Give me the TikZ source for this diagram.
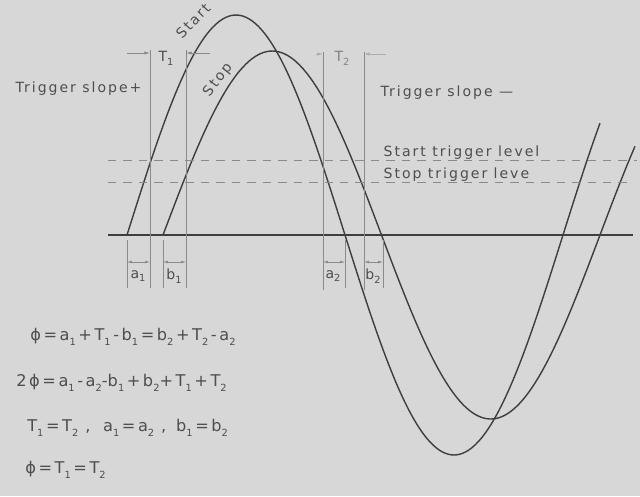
\documentclass[tikz,border=0pt]{standalone}
\usepackage{fontspec}
\setmainfont{DejaVu Sans}
\usetikzlibrary{arrows.meta}
\definecolor{PaperGray}{HTML}{D7D7D7}
\definecolor{CurveInk}{HTML}{3E3E3E}
\definecolor{DimInk}{HTML}{8A8A8A}
\definecolor{TextInk}{HTML}{4E4E4E}
\newcommand{\lo}[1]{\raisebox{-0.5ex}{\scriptsize #1}}
\newcommand{\eqfont}{\fontsize{11.5}{13}\selectfont\spaceskip=0.16em\relax}
\newcommand{\lblfont}{\fontsize{10}{12}\selectfont\addfontfeatures{LetterSpace=14}}

\begin{document}
\begin{tikzpicture}[x=0.025cm,y=-0.025cm,
    curve/.style={CurveInk,line width=1pt},
    dim/.style={DimInk,line width=0.4pt},
    dimtip/.style={dim,-{Latex[length=4pt,width=2.2pt]}},
    dimboth/.style={dim,{Latex[length=3.5pt,width=2pt]}-{Latex[length=3.5pt,width=2pt]}},
    lvl/.style={DimInk,line width=0.5pt,dash pattern=on 6pt off 5pt},
    lbl/.style={TextInk,font=\lblfont,inner sep=1pt},
    eqn/.style={TextInk,font=\eqfont,anchor=west,inner sep=0pt}]
  \fill[PaperGray] (0,0) rectangle (640,496);

  % --- axis and the two waves ---
  \draw[curve] (108,235) -- (633,235);
  \draw[curve] plot[domain=127:600,samples=160,smooth]
    (\x,{235-220*sin((\x-127)/436*360)});
  \draw[curve] plot[domain=163:635,samples=160,smooth]
    (\x,{235-184*sin((\x-163)/437*360)});
  \node[lbl,rotate=46] (startlbl) at (193,21) {Start};
  \node[lbl,rotate=52] (stoplbl) at (218,80) {Stop};

  % --- trigger levels ---
  \draw[lvl] (108,160) -- (637,160);
  \draw[lvl] (108,182) -- (632,182);
  \node[lbl,anchor=west] (startlvl) at (382,153) {Start trigger level};
  \node[lbl,anchor=west] (stoplvl) at (382,175) {Stop trigger leve};
  \node[lbl,anchor=west] (slopeup) at (14,89) {Trigger slope+};
  \node[lbl,anchor=west] (slopedn) at (379,93) {Trigger slope ---};

  % --- T1 and T2 ---
  \draw[dim] (150,50) -- (150,288);
  \draw[dim] (186,50) -- (186,288);
  \draw[dimtip] (127,53) -- (150,53);
  \draw[dimtip] (210,53) -- (186,53);
  \node[lbl] (t1) at (166,58) {T\lo{1}};
  \draw[dim] (323,52) -- (323,290);
  \draw[dim] (364,52) -- (364,290);
  \draw[dimtip,DimInk!70] (316,54) -- (323,54);
  \draw[dimtip,DimInk!70] (386,54) -- (364,54);
  \node[lbl,TextInk!70] (t2) at (342,58) {T\lo{2}};

  % --- a and b offsets ---
  \draw[dim] (127,240) -- (127,288);
  \draw[dim] (163,240) -- (163,288);
  \draw[dim] (345,240) -- (345,288);
  \draw[dim] (383,240) -- (383,288);
  \draw[dimboth] (127,262) -- (150,262);
  \draw[dimboth] (163,262) -- (186,262);
  \draw[dimboth] (323,262) -- (345,262);
  \draw[dimboth] (364,262) -- (383,262);
  \node[lbl] (a1) at (138,276) {a\lo{1}};
  \node[lbl] (b1) at (174,276) {b\lo{1}};
  \node[lbl] (a2) at (333,276) {a\lo{2}};
  \node[lbl] (b2) at (373,276) {b\lo{2}};

  % --- relations ---
  \node[eqn] (eq1) at (30,337)
    {ϕ = a\lo{1} + T\lo{1} - b\lo{1} = b\lo{2} + T\lo{2} - a\lo{2}};
  \node[eqn] (eq2) at (16,383)
    {2 ϕ = a\lo{1} - a\lo{2}-b\lo{1} + b\lo{2}+ T\lo{1} + T\lo{2}};
  \node[eqn] (eq3) at (27,428)
    {T\lo{1} = T\lo{2}\hspace{5pt},\hspace{9pt}a\lo{1} = a\lo{2}\hspace{5pt},\hspace{7pt}b\lo{1} = b\lo{2}};
  \node[eqn] (eq4) at (25,470) {ϕ = T\lo{1} = T\lo{2}};
\end{tikzpicture}
\end{document}
